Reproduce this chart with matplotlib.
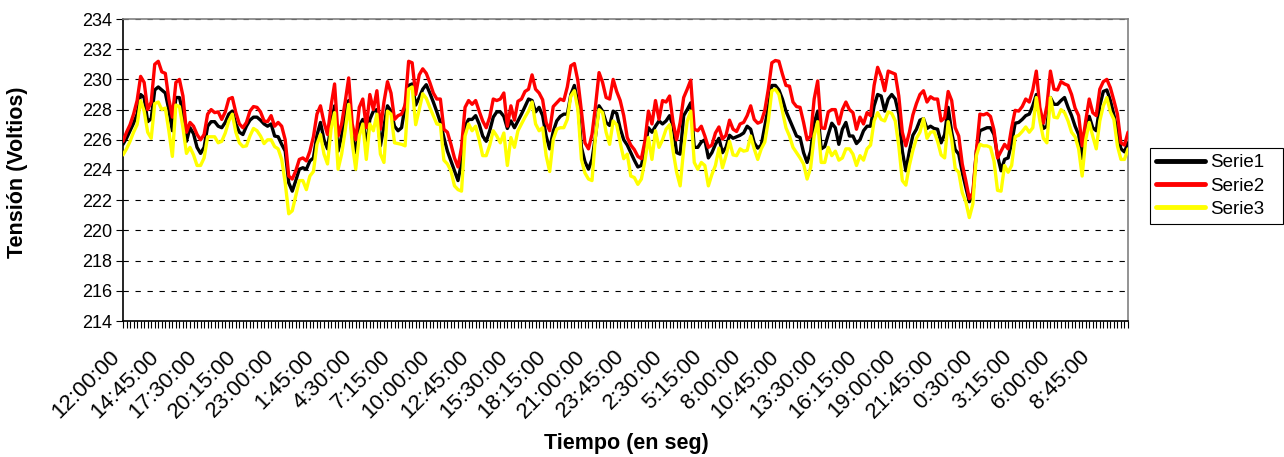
import numpy as np
import matplotlib
matplotlib.use("Agg")
import matplotlib.pyplot as plt
import matplotlib.transforms as mtransforms

plt.rcParams['font.family'] = ['Liberation Sans', 'DejaVu Sans']

# ---------------- data ----------------
TICK_LABELS = ["12:00:00", "14:45:00", "17:30:00", "20:15:00", "23:00:00", "1:45:00",
               "4:30:00", "7:15:00", "10:00:00", "12:45:00", "15:30:00", "18:15:00",
               "21:00:00", "23:45:00", "2:30:00", "5:15:00", "8:00:00", "10:45:00",
               "13:30:00", "16:15:00", "19:00:00", "21:45:00", "0:30:00", "3:15:00",
               "6:00:00", "8:45:00"]
LABEL_EVERY = 11
SERIES_NAMES = ["Serie1", "Serie2", "Serie3"]

SERIE1 = [
    225.7, 226.1, 226.6, 227.1, 227.7, 229.0, 228.8, 227.2, 227.4, 229.3,
    229.5, 229.3, 229.1, 228.0, 226.6, 228.8, 228.8, 227.8, 225.9, 226.8,
    226.4, 225.5, 225.1, 225.5, 226.9, 227.2, 227.2, 226.9, 226.8, 227.15,
    227.7, 227.9, 227.05, 226.5, 226.35, 226.9, 227.3, 227.5, 227.5, 227.3,
    227.05, 226.9, 227.05, 226.25, 226.2, 225.7, 225.25, 223.15, 222.6, 223.3,
    224.05, 224.15, 224.05, 224.6, 224.8, 226.3, 227.15, 226.0, 225.4, 227.05,
    228.25, 225.25, 226.25, 227.8, 228.6, 226.25, 225.15, 226.9, 227.35, 225.6,
    227.35, 227.9, 228.0, 225.6, 226.9, 228.25, 227.9, 226.9, 226.6, 226.8,
    228.25, 229.6, 229.7, 228.3, 228.8, 229.35, 229.65, 229.1, 228.5, 227.85,
    227.15, 226.15, 225.25, 224.6, 223.95, 223.3, 224.5, 226.9, 227.35, 227.35,
    227.6, 227.05, 226.25, 225.9, 226.6, 227.5, 227.85, 227.85, 227.55, 226.75,
    227.25, 226.8, 227.25, 227.7, 228.2, 228.7, 228.6, 227.85, 228.15, 227.6,
    226.25, 225.4, 226.55, 227.25, 227.55, 227.7, 227.7, 229.0, 229.6, 228.45,
    225.5, 224.55, 224.05, 224.7, 226.25, 228.25, 227.9, 227.15, 226.95, 227.9,
    227.75, 226.75, 226.0, 225.65, 225.15, 224.65, 224.2, 224.3, 225.4, 226.8,
    226.5, 226.9, 227.25, 227.05, 227.25, 227.6, 226.9, 225.15, 225.05, 227.6,
    228.0, 228.45, 225.5, 225.5, 225.85, 226.0, 224.8, 225.15, 225.7, 226.1,
    225.15, 225.5, 226.3, 226.1, 226.2, 226.3, 226.45, 226.9, 226.7, 225.8,
    225.45, 225.65, 226.9, 228.15, 229.6, 229.6, 229.3, 228.7, 227.9, 227.35,
    226.8, 226.25, 226.15, 225.15, 224.5, 225.25, 227.1, 227.9, 225.4, 225.55,
    226.35, 227.1, 226.8, 225.7, 226.7, 227.15, 226.25, 226.25, 225.75, 226.0,
    226.6, 226.9, 226.9, 228.25, 229.0, 228.9, 227.9, 228.7, 229.0, 228.7,
    227.7, 225.25, 223.95, 225.25, 226.3, 226.7, 227.3, 227.4, 226.75, 226.9,
    226.75, 226.7, 225.8, 226.35, 228.15, 226.5, 225.35, 225.05, 223.85, 222.85,
    221.9, 222.3, 225.25, 226.6, 226.7, 226.8, 226.8, 226.35, 224.95, 223.95,
    224.7, 224.8, 225.8, 227.1, 227.15, 227.35, 227.6, 227.7, 228.25, 229.0,
    227.85, 226.75, 226.9, 228.8, 228.35, 228.35, 228.6, 228.8, 228.15, 227.6,
    226.9, 226.35, 224.75, 226.65, 227.55, 226.8, 226.6, 228.25, 229.2, 229.3,
    228.6, 227.65, 226.5, 225.4, 225.2, 225.8,
]

SERIE2 = [
    225.9, 226.5, 227.0, 227.7, 228.6, 230.2, 229.8, 228.0, 228.5, 231.0,
    231.2, 230.5, 230.4, 228.7, 227.5, 229.8, 230.0, 228.9, 226.5, 227.15,
    226.9, 226.35, 226.0, 226.35, 227.7, 228.0, 227.8, 227.85, 227.35, 227.85,
    228.7, 228.8, 227.8, 227.05, 226.8, 227.15, 227.9, 228.2, 228.15, 227.85,
    227.25, 227.2, 227.6, 226.9, 227.15, 226.9, 226.0, 223.6, 223.4, 223.95,
    224.7, 224.8, 224.6, 225.25, 226.2, 227.7, 228.25, 227.15, 226.35, 228.25,
    229.7, 226.25, 227.05, 228.5, 230.1, 227.05, 226.0, 228.15, 228.7, 226.8,
    229.0, 228.0, 229.25, 226.7, 228.5, 229.85, 229.1, 227.35, 227.6, 227.7,
    228.3, 231.2, 231.1, 229.0, 230.3, 230.7, 230.4, 229.8, 229.1, 228.7,
    228.7, 226.7, 226.5, 225.7, 224.8, 224.2, 225.5, 228.15, 228.6, 228.35,
    228.6, 227.9, 227.25, 226.8, 227.5, 228.7, 228.6, 228.7, 229.1, 226.9,
    228.25, 227.3, 228.55, 228.7, 229.2, 229.35, 230.3, 229.35, 229.1, 228.65,
    227.15, 226.6, 228.2, 228.45, 228.7, 228.6, 229.5, 230.9, 231.05, 229.9,
    227.9, 225.8, 225.4, 226.35, 228.25, 230.45, 229.8, 228.8, 228.7, 230.0,
    229.2, 228.6, 227.6, 226.15, 225.65, 225.35, 224.9, 224.75, 225.9, 227.9,
    227.05, 228.6, 227.35, 228.6, 228.5, 228.9, 227.15, 226.0, 227.15, 228.8,
    229.35, 229.95, 226.7, 226.6, 226.9, 226.25, 225.5, 225.65, 226.45, 226.85,
    226.05, 226.3, 227.3, 226.7, 226.55, 227.05, 227.15, 227.6, 228.25, 227.35,
    227.1, 227.2, 227.95, 229.35, 231.1, 231.25, 231.2, 230.35, 229.6, 229.55,
    228.5, 228.2, 228.15, 227.15, 226.0, 226.25, 228.7, 229.9, 226.8, 226.75,
    227.85, 228.0, 228.0, 227.05, 228.0, 228.5, 228.0, 227.8, 226.7, 227.5,
    227.05, 227.8, 227.6, 229.6, 230.8, 230.2, 229.25, 230.55, 230.45, 230.35,
    228.9, 226.5, 225.6, 226.5, 227.65, 228.4, 229.0, 229.25, 228.5, 228.85,
    228.7, 228.7, 227.25, 227.45, 229.2, 228.6, 226.8, 226.25, 224.4, 223.3,
    222.1, 222.5, 225.25, 227.7, 227.65, 227.75, 227.55, 226.65, 224.8, 225.25,
    225.7, 225.4, 226.8, 227.95, 227.9, 228.2, 228.7, 228.5, 229.3, 230.55,
    228.15, 227.1, 228.25, 230.55, 229.35, 229.3, 229.85, 229.7, 229.6, 229.0,
    228.1, 227.6, 225.6, 227.25, 228.7, 227.8, 227.6, 229.35, 229.85, 230.0,
    229.45, 228.6, 227.7, 225.8, 225.65, 226.5,
]

SERIE3 = [
    225.0, 225.4, 225.9, 226.5, 227.0, 228.6, 227.9, 226.5, 226.1, 228.4,
    228.5, 228.0, 228.1, 226.6, 224.9, 228.3, 228.2, 226.8, 225.1, 225.5,
    225.0, 224.3, 224.3, 224.8, 226.2, 226.2, 226.2, 225.8, 225.9, 226.45,
    227.25, 227.7, 226.5, 225.8, 225.55, 225.6, 226.25, 226.75, 226.6, 226.25,
    225.75, 226.0, 226.0, 225.55, 225.4, 224.7, 223.15, 221.1, 221.3, 222.3,
    223.3, 223.3, 222.7, 223.6, 223.9, 225.7, 226.35, 225.05, 224.4, 226.7,
    227.8, 224.05, 225.05, 226.6, 228.35, 225.8, 224.05, 226.25, 227.05, 224.7,
    227.05, 226.6, 227.7, 225.05, 224.5, 227.9, 227.7, 225.8, 225.75, 225.7,
    225.6, 229.35, 229.5, 227.0, 228.0, 229.05, 228.75, 228.15, 227.6, 227.05,
    227.0, 224.65, 224.4, 223.95, 222.95, 222.7, 222.6, 226.25, 227.05, 226.6,
    226.9, 226.0, 224.95, 224.95, 225.65, 226.6, 226.25, 225.8, 226.45, 224.3,
    226.15, 225.5, 226.6, 227.05, 227.5, 227.9, 228.5, 227.05, 226.6, 226.8,
    224.95, 223.9, 226.0, 226.7, 226.8, 226.8, 227.35, 228.9, 229.25, 228.0,
    224.7, 223.8, 223.4, 223.3, 226.25, 228.0, 227.8, 226.5, 225.7, 227.25,
    227.0, 225.8, 224.75, 225.05, 223.6, 223.5, 223.05, 223.4, 224.6, 226.15,
    224.7, 226.6, 225.5, 226.0, 226.7, 227.0, 225.25, 223.85, 222.95, 225.4,
    227.25, 227.9, 224.5, 224.05, 224.5, 224.3, 222.95, 223.7, 224.3, 225.45,
    224.15, 224.95, 225.9, 225.0, 224.95, 225.4, 225.25, 225.3, 226.25, 225.4,
    224.7, 225.4, 225.85, 227.25, 229.25, 229.35, 229.0, 227.9, 226.8, 226.25,
    225.5, 225.15, 224.8, 224.4, 223.4, 224.15, 226.25, 227.2, 224.5, 224.5,
    225.5, 224.95, 225.25, 224.65, 224.8, 225.4, 225.4, 225.05, 224.3, 224.95,
    224.65, 225.4, 225.65, 227.25, 227.8, 227.35, 227.25, 227.85, 227.75, 227.25,
    225.6, 223.3, 223.0, 224.3, 225.3, 226.1, 226.5, 227.4, 226.1, 226.5,
    226.55, 225.9, 225.0, 224.8, 227.2, 226.0, 224.1, 223.85, 222.5, 221.9,
    220.85, 221.75, 224.95, 225.7, 225.6, 225.6, 225.5, 224.6, 222.65, 222.6,
    224.3, 223.85, 224.3, 226.2, 226.3, 226.55, 226.85, 226.5, 226.8, 228.8,
    227.25, 226.1, 225.8, 228.8, 227.5, 227.45, 228.0, 227.8, 227.25, 226.5,
    226.2, 225.4, 223.6, 226.0, 227.15, 226.25, 225.4, 227.25, 228.25, 228.8,
    227.85, 227.35, 225.6, 224.7, 224.7, 225.4,
]

Y_MIN, Y_MAX, Y_STEP = 214, 234, 2

# ---------------- figure ----------------
W, H = 1284, 457
fig = plt.figure(figsize=(W / 100, H / 100), dpi=100)
L, R, T, B = 123, 1128, 19, 321
ax = fig.add_axes([L / W, 1 - B / H, (R - L) / W, (B - T) / H])

n = max(len(SERIE1), len(SERIE2), len(SERIE3))
colors = ["#000000", "#FF0000", "#FFFF00"]
for name, vals, c in zip(SERIES_NAMES, [SERIE1, SERIE2, SERIE3], colors):
    ax.plot(np.arange(len(vals)), vals, color=c, lw=2.4, label=name,
            solid_joinstyle='round', solid_capstyle='round', zorder=3)

ax.set_xlim(0, n - 1)
ax.set_ylim(Y_MIN, Y_MAX)
ax.set_yticks(np.arange(Y_MIN, Y_MAX + 1, Y_STEP))
ax.yaxis.grid(True, color='black', linestyle=(0, (4.8, 6.0)), linewidth=0.8)
ax.set_axisbelow(True)

major = np.arange(0, n, LABEL_EVERY)[:len(TICK_LABELS)]
ax.set_xticks(major)
ax.set_xticklabels(TICK_LABELS[:len(major)], rotation=45, ha='right',
                   rotation_mode='anchor', fontsize=16)
ax.set_xticks(np.arange(n), minor=True)
ax.tick_params(axis='x', which='both', direction='out', length=5, width=0.8,
               color='black')
ax.tick_params(axis='x', which='major', pad=13)
ax.tick_params(axis='y', direction='out', length=5, width=0.8, labelsize=13, pad=3)

shift = mtransforms.ScaledTranslation(-14 / 100, 0, fig.dpi_scale_trans)
for lbl in ax.get_xticklabels():
    lbl.set_transform(lbl.get_transform() + shift)

for s in ['left', 'bottom']:
    ax.spines[s].set_color('black')
    ax.spines[s].set_linewidth(1.2)
for s in ['top', 'right']:
    ax.spines[s].set_color('#808080')
    ax.spines[s].set_linewidth(1.2)

fig.text(18 / W, 1 - 172 / H, 'Tensión (Voltios)', rotation=90, ha='center',
         va='center', fontsize=15.5, fontweight='bold')
fig.text(626 / W, 1 - 443 / H, 'Tiempo (en seg)', ha='center', va='center',
         fontsize=15.5, fontweight='bold')

leg = fig.legend(loc='upper left',
                 bbox_to_anchor=(1150 / W, 1 - 222 / H, 133 / W, 74 / H),
                 mode='expand', frameon=True, fancybox=False, edgecolor='black',
                 framealpha=1, fontsize=13.5, handlelength=2.6, handletextpad=0.3,
                 labelspacing=0.33, borderpad=0.33, borderaxespad=0)
leg.get_frame().set_linewidth(0.8)
for h in leg.get_lines():
    h.set_linewidth(3.5)

fig.savefig('out.png', dpi=100)
